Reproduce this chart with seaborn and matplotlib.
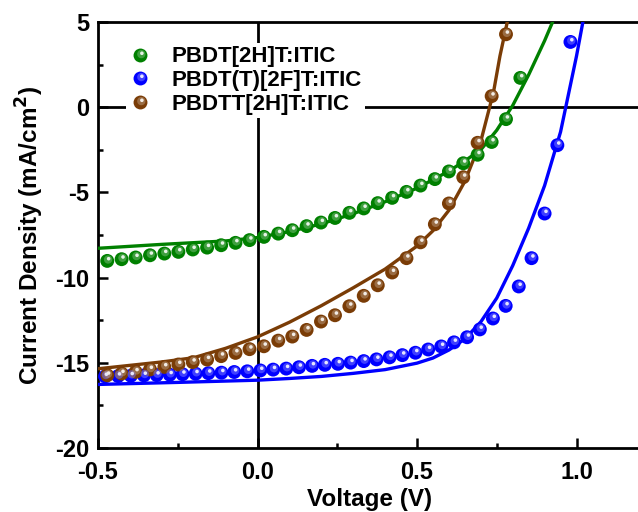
import numpy as np
import pandas as pd
import matplotlib
matplotlib.use("Agg")
import matplotlib.pyplot as plt
import seaborn as sns
from matplotlib.path import Path
from matplotlib.lines import Line2D
from matplotlib.legend_handler import HandlerTuple

# ---------------- data ----------------
labels = ["PBDT[2H]T:ITIC", "PBDT(T)[2F]T:ITIC", "PBDTT[2H]T:ITIC"]

v_gb = [-0.471, -0.426, -0.382, -0.337, -0.292, -0.248, -0.203, -0.158, -0.114, -0.069,
        -0.025, 0.020, 0.065, 0.109, 0.154, 0.199, 0.243, 0.288, 0.333, 0.377,
        0.422, 0.467, 0.511, 0.556, 0.600, 0.645, 0.690, 0.734, 0.779, 0.824]

j_green = [-9.02, -8.92, -8.82, -8.69, -8.59, -8.49, -8.35, -8.24, -8.10, -7.96,
           -7.80, -7.61, -7.42, -7.22, -6.98, -6.77, -6.50, -6.20, -5.94, -5.63,
           -5.32, -4.97, -4.60, -4.22, -3.77, -3.29, -2.79, -2.04, -0.70, 1.72]

j_brown = [-15.73, -15.63, -15.53, -15.39, -15.24, -15.10, -14.96, -14.81, -14.61, -14.42,
           -14.20, -14.03, -13.70, -13.46, -13.07, -12.58, -12.21, -11.68, -11.07, -10.45,
           -9.70, -8.86, -7.93, -6.87, -5.65, -4.11, -2.09, 0.65, 4.28]

v_blue = [-0.478, -0.437, -0.397, -0.356, -0.316, -0.275, -0.235, -0.194, -0.154, -0.113,
          -0.073, -0.032, 0.009, 0.049, 0.090, 0.130, 0.171, 0.211, 0.252, 0.292,
          0.333, 0.373, 0.414, 0.454, 0.495, 0.535, 0.576, 0.616, 0.657, 0.697,
          0.738, 0.778, 0.819, 0.859, 0.900, 0.940, 0.981]

j_blue = [-15.80, -15.78, -15.76, -15.74, -15.72, -15.70, -15.67, -15.64, -15.61, -15.58,
          -15.54, -15.50, -15.45, -15.40, -15.34, -15.26, -15.18, -15.12, -15.06, -14.99,
          -14.90, -14.80, -14.68, -14.55, -14.41, -14.22, -14.04, -13.80, -13.50, -13.04,
          -12.40, -11.66, -10.52, -8.86, -6.24, -2.23, 3.83]

# fitted curves
fit_green_v = [-0.5, -0.3, -0.1, 0.0, 0.1, 0.2, 0.3, 0.4, 0.5, 0.6, 0.65, 0.7, 0.75, 0.8, 0.85, 0.9, 0.925]
fit_green_j = [-8.28, -8.05, -7.85, -7.65, -7.30, -6.85, -6.25, -5.55, -4.75, -3.75, -3.15, -2.50, -1.35, 0.10, 1.90, 3.90, 5.0]

fit_blue_v = [-0.5, -0.25, 0.0, 0.1, 0.2, 0.3, 0.4, 0.5, 0.55, 0.6, 0.65, 0.7, 0.75, 0.8, 0.85, 0.9, 0.95, 1.0, 1.02]
fit_blue_j = [-16.27, -16.15, -16.02, -15.92, -15.80, -15.62, -15.40, -15.02, -14.72, -14.25, -13.60, -12.60, -11.20, -9.30, -7.10, -4.60, -1.45, 3.0, 5.0]

fit_brown_v = [-0.5, -0.3, -0.2, -0.1, 0.0, 0.1, 0.2, 0.3, 0.4, 0.5, 0.55, 0.6, 0.65, 0.7, 0.74, 0.76, 0.783]
fit_brown_j = [-15.35, -14.95, -14.70, -14.15, -13.48, -12.62, -11.65, -10.60, -9.50, -8.15, -7.25, -6.05, -4.35, -2.00, 0.90, 3.00, 5.0]

x_ticks = [-0.5, 0.0, 0.5, 1.0]
y_ticks = [-20, -15, -10, -5, 0, 5]

colors = ["#008000", "#0000ff", "#7a3c06"]
line_colors = ["#008000", "#0000ff", "#7a3c06"]

# ---------------- style ----------------
sns.set_theme(style="ticks")
plt.rcParams["font.family"] = ["Liberation Sans", "DejaVu Sans"]
plt.rcParams["font.weight"] = "bold"
plt.rcParams["axes.unicode_minus"] = False
plt.rcParams["mathtext.default"] = "bf"
plt.rcParams["text.color"] = "black"
plt.rcParams["axes.labelcolor"] = "black"
plt.rcParams["xtick.color"] = "black"
plt.rcParams["ytick.color"] = "black"
plt.rcParams["axes.edgecolor"] = "black"

W, H = 638, 512
fig = plt.figure(figsize=(W / 100, H / 100), dpi=100)
ax = fig.add_axes([98 / W, (H - 448) / H, 542.3 / W, 426 / H])

# sphere-like marker pieces
def circ_path(cx, cy, r):
    c = Path.circle((cx, cy), r)
    verts = np.vstack([[[-0.5, -0.5]], c.vertices])
    codes = np.concatenate([[Path.MOVETO], c.codes])
    return Path(verts, codes)

halo = circ_path(0.06, 0.10, 0.30)
spot = circ_path(0.10, 0.16, 0.13)

def lighten(c, f):
    rgb = np.array(matplotlib.colors.to_rgb(c))
    return tuple(rgb + (1 - rgb) * f)

ms = 10.0  # points
s = ms ** 2

# fits
fits = [(fit_green_v, fit_green_j), (fit_blue_v, fit_blue_j), (fit_brown_v, fit_brown_j)]
for (fv, fj), lc in zip(fits, line_colors):
    sns.lineplot(x=fv, y=fj, ax=ax, color=lc, lw=2.4, estimator=None, sort=False, zorder=3)

# points
pts = [(v_gb, j_green), (v_blue, j_blue), (v_gb[:len(j_brown)], j_brown)]
handles = []
for (pv, pj), c in zip(pts, colors):
    df = pd.DataFrame({"V": pv, "J": pj})
    sns.scatterplot(data=df, x="V", y="J", ax=ax, color=c, s=s, marker="o",
                    linewidth=0, edgecolor="none", zorder=4)
    sns.scatterplot(data=df, x="V", y="J", ax=ax, color=lighten(c, 0.45), s=s, marker=halo,
                    linewidth=0, edgecolor="none", alpha=0.55, zorder=5)
    sns.scatterplot(data=df, x="V", y="J", ax=ax, color=lighten(c, 0.9), s=s, marker=spot,
                    linewidth=0, edgecolor="none", zorder=6)
    h = (Line2D([], [], ls="none", marker="o", ms=ms, mfc=c, mec="none"),
         Line2D([], [], ls="none", marker=halo, ms=ms, mfc=lighten(c, 0.45), mec="none", alpha=0.55),
         Line2D([], [], ls="none", marker=spot, ms=ms, mfc=lighten(c, 0.9), mec="none"))
    handles.append(h)

# zero lines
ax.axvline(0, color="black", lw=2.0, zorder=2)
ax.axhline(0, color="black", lw=2.0, zorder=2)

ax.set_xlim(-0.5, 1.2)
ax.set_ylim(-20, 5)
ax.set_xticks(x_ticks)
ax.set_xticklabels(["%.1f" % t for t in x_ticks])
ax.set_yticks(y_ticks)
ax.set_yticklabels([str(t) for t in y_ticks])
ax.xaxis.set_minor_locator(matplotlib.ticker.MultipleLocator(0.25))
ax.yaxis.set_minor_locator(matplotlib.ticker.MultipleLocator(2.5))
ax.tick_params(which="major", direction="in", length=7, width=1.8, labelsize=17,
               top=False, right=False, colors="black")
ax.tick_params(axis="x", which="major", pad=9.5)
ax.tick_params(axis="y", which="major", pad=6.5)
ax.tick_params(which="minor", direction="in", length=3.5, width=1.8, top=False, right=False,
               colors="black")
for lab in ax.get_xticklabels() + ax.get_yticklabels():
    lab.set_fontweight("bold")
    lab.set_color("black")

for sp in ax.spines.values():
    sp.set_linewidth(2.0)
    sp.set_color("black")
    sp.set_visible(True)

ax.set_xlabel("Voltage (V)", fontsize=17.5, fontweight="bold", labelpad=3, color="black")
ax.set_ylabel("Current Density (mA/cm$^2$)", fontsize=17.5, fontweight="bold", labelpad=6,
              color="black")

leg = ax.legend(handles, labels, loc="upper left", bbox_to_anchor=(0.0517, 0.9507),
                borderaxespad=0, frameon=True, framealpha=1, facecolor="white",
                edgecolor="none", fancybox=False, fontsize=16, handlelength=1.0,
                handletextpad=0.9, labelspacing=0.12, borderpad=0.15,
                handler_map={tuple: HandlerTuple(ndivide=1, pad=0)})
leg.set_zorder(10)
for t in leg.get_texts():
    t.set_fontweight("bold")
    t.set_color("black")

fig.savefig("out.png", dpi=100)
